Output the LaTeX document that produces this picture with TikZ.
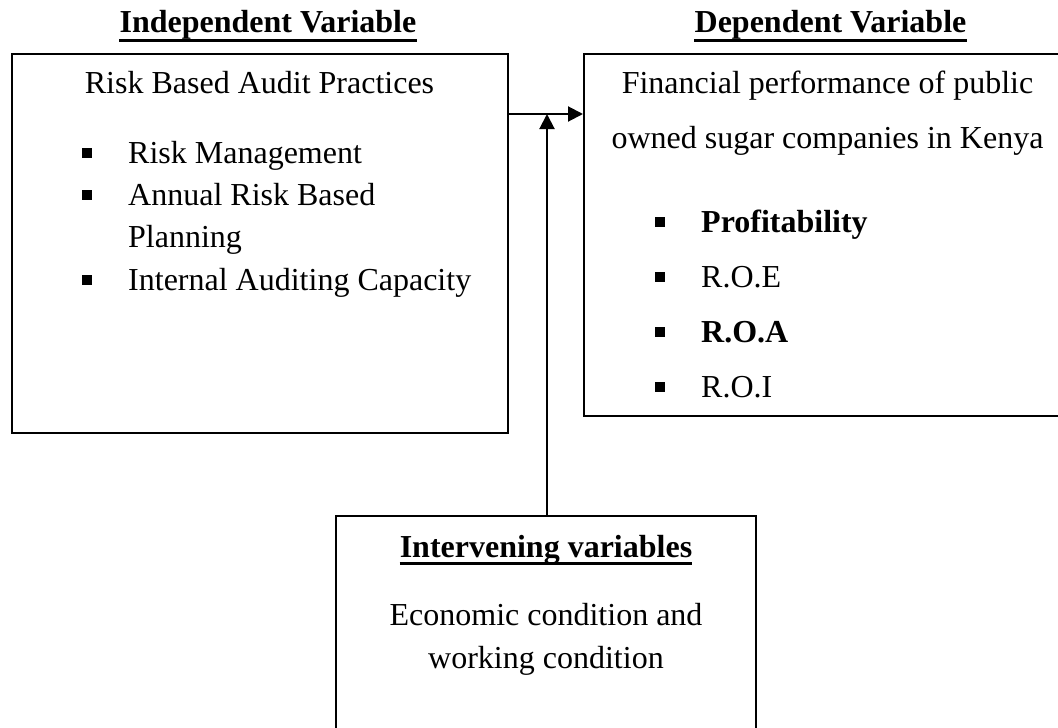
\documentclass[tikz,border=0pt]{standalone}
\usepackage{fontspec}
\setmainfont{Liberation Serif}
\usetikzlibrary{arrows.meta}
\begin{document}
\begin{tikzpicture}[x=1pt,y=-1pt,
  box/.style={draw, line width=2pt, inner sep=0pt, rectangle},
  txt/.style={anchor=base, inner sep=0pt, font=\fontsize{32}{38}\selectfont},
  ltxt/.style={txt, anchor=base west},
  ttl/.style={txt, font=\fontsize{32}{38}\selectfont\bfseries},
  bul/.style={fill, inner sep=0pt, minimum size=10pt, rectangle},
  uline/.style={line width=3pt},
  conn/.style={line width=2pt, -{Triangle[length=15pt,width=15pt]}}]
\useasboundingbox (0,0) rectangle (1058,728);
% boxes
\node[box, minimum width=496pt, minimum height=379pt] (lb) at (260,243.5) {};
\node[box, minimum width=491pt, minimum height=362pt] (rb) at (829.5,235) {};
\node[box, minimum width=420pt, minimum height=229pt] (bb) at (546,630.5) {};
% titles
\node[ttl] (t1) at (268,32) {Independent Variable};
\draw[uline] ([yshift=-8pt]t1.base west) -- ([yshift=-8pt]t1.base east);
\node[ttl] (t2) at (830.5,32) {Dependent Variable};
\draw[uline] ([yshift=-8pt]t2.base west) -- ([yshift=-8pt]t2.base east);
% left box
\node[txt] (l0) at (259.5,93) {Risk Based Audit Practices};
\node[bul] (lb1) at (87,153) {};
\node[ltxt] (l1) at (128,163) {Risk Management};
\node[bul] (lb2) at (87,195) {};
\node[ltxt] (l2) at (128,205) {Annual Risk Based};
\node[ltxt] (l2b) at (128,247) {Planning};
\node[bul] (lb3) at (87,280) {};
\node[ltxt] (l3) at (128,290) {Internal Auditing Capacity};
% right box
\node[txt] (r0) at (827.5,93) {Financial performance of public};
\node[txt] (r0b) at (827.5,148) {owned sugar companies in Kenya};
\node[bul] (rb1) at (660,222) {};
\node[ltxt, font=\fontsize{32}{38}\selectfont\bfseries] (r1) at (701,232) {Profitability};
\node[bul] (rb2) at (660,277) {};
\node[ltxt] (r2) at (701,287) {R.O.E};
\node[bul] (rb3) at (660,332) {};
\node[ltxt, font=\fontsize{32}{38}\selectfont\bfseries] (r3) at (701,342) {R.O.A};
\node[bul] (rb4) at (660,387) {};
\node[ltxt] (r4) at (701,397) {R.O.I};
% bottom box
\node[ttl] (b0) at (546,557) {Intervening variables};
\draw[uline] ([yshift=-6pt]b0.base west) -- ([yshift=-6pt]b0.base east);
\node[txt] (b1) at (546,625) {Economic condition and};
\node[txt] (b2) at (546,668) {working condition};
% connectors
\coordinate (hy) at (0,114);
\coordinate (vx) at (547,0);
\draw[conn] (lb.east |- hy) -- (rb.west |- hy);
\draw[conn] (bb.north -| vx) -- (vx |- hy);
\end{tikzpicture}
\end{document}
